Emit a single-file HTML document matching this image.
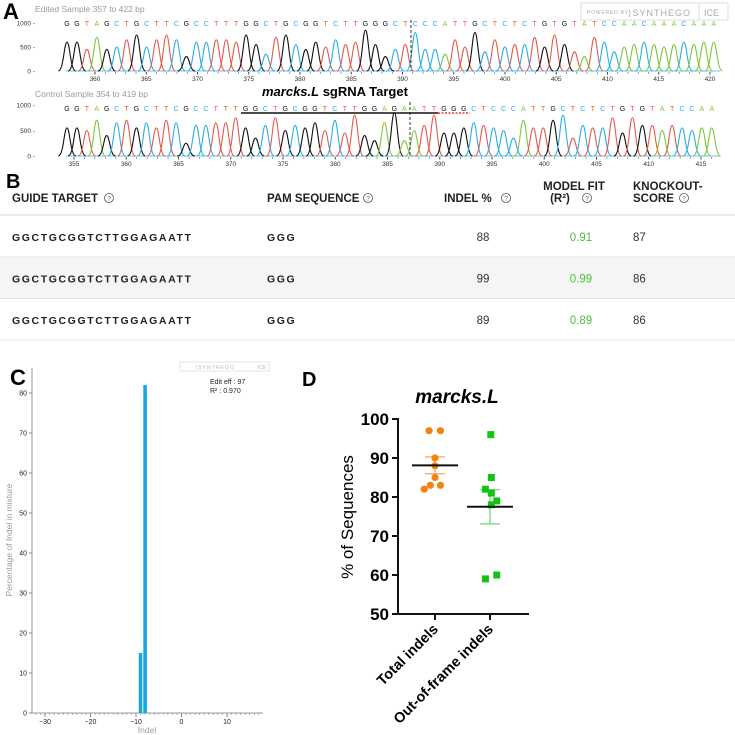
<!DOCTYPE html>
<html><head><meta charset="utf-8">
<style>
html,body{margin:0;padding:0;background:#fff;width:735px;height:735px;overflow:hidden;font-family:"Liberation Sans",sans-serif}
svg text{font-family:"Liberation Sans",sans-serif}
</style></head>
<body>
<svg id="fig" width="735" height="735" viewBox="0 0 735 735" xmlns="http://www.w3.org/2000/svg">
<rect width="735" height="735" fill="#fff"/>
<text x="3" y="19" font-size="22" font-weight="bold">A</text>
<text x="35" y="12" font-size="8.5" fill="#999">Edited Sample 357 to 422 bp</text>
<g>
<rect x="581" y="3" width="147" height="17" fill="#fff" stroke="#ddd"/>
<text x="587" y="14" font-size="5" fill="#aaa" letter-spacing="0.8">POWERED BY</text>
<text x="628" y="16" font-size="9" fill="#aaa" letter-spacing="1">⟩SYNTHEGO</text>
<line x1="699" y1="3" x2="699" y2="20" stroke="#ddd"/>
<text x="704" y="16" font-size="9" fill="#aaa">ICE</text>
</g>
<text x="35" y="97" font-size="8.5" fill="#999">Control Sample 354 to 419 bp</text>
<text x="262" y="96" font-size="13" font-weight="bold"><tspan font-style="italic">marcks.L</tspan> sgRNA Target</text>
<g id="chromA"></g>
<text x="6" y="188" font-size="20" font-weight="bold">B</text>
<g id="tableB" font-size="10.5" font-weight="bold" fill="#222"></g>
<text x="10" y="385" font-size="22" font-weight="bold">C</text>
<g id="chartC"></g>
<text x="302" y="386" font-size="20" font-weight="bold">D</text>
<g id="chartD"></g>
</svg>
<script>
// ---------- data: chromatograms ----------
const editedSeq = "GGTAGCTGCTTCGCCTTTGGCTGCGGTCTTGGGCTCCCATTGCTCTCTGTGTATCCAACAAACAAA";
const editedHeights = [600,600,450,700,450,500,650,750,500,650,750,650,300,600,600,650,650,600,750,550,350,700,750,550,450,600,500,650,550,600,850,550,300,450,550,800,450,450,350,650,500,800,400,650,500,550,550,700,500,750,550,400,300,700,600,400,500,550,600,550,500,550,600,550,600,600];
const editedTicks = [360,365,370,375,380,385,390,395,400,405,410,415,420];
const controlSeq = "GGTAGCTGCTTCGCCTTTGGCTGCGGTCTTGGAGAATTGGGCTCCCATTGCTCTCTGTGTATCCAA";
const controlHeights = [550,550,500,700,400,650,700,550,650,550,700,650,250,600,600,650,650,750,550,350,600,750,500,600,550,650,500,700,450,800,400,300,650,850,300,500,600,800,450,450,550,650,600,550,500,350,700,550,550,700,800,350,600,550,550,750,450,750,600,600,500,600,550,500,550,550];
const controlTicks = [355,360,365,370,375,380,385,390,395,400,405,410,415];
const chromYTicks = [0,500,1000];

// ---------- data: table ----------
const guideTargets = ["GGCTGCGGTCTTGGAGAATT","GGCTGCGGTCTTGGAGAATT","GGCTGCGGTCTTGGAGAATT"];
const pamSeqs = ["GGG","GGG","GGG"];
const indelPct = [88,99,89];
const modelFit = ["0.91","0.99","0.89"];
const koScore = [87,86,86];

// ---------- data: panel C ----------
const indelSizes = [-9,-8];
const indelPercents = [15,82];
const cYTicks = [0,10,20,30,40,50,60,70,80];
const cXTicks = [-30,-20,-10,0,10];

// ---------- data: panel D ----------
const totalIndels = [97,97,90,88,85,83,83,82];
const totalJitter = [-0.22,0.2,0,0,0,-0.17,0.2,-0.4];
const oofIndels = [96,85,82,81,78,79,59,60];
const oofJitter = [0.03,0.05,-0.17,0.05,0.05,0.25,-0.17,0.25];
const dYTicks = [50,60,70,80,90,100];
const dCategories = ["Total indels","Out-of-frame indels"];

const NS="http://www.w3.org/2000/svg";
function mk(tag, attrs, parent, text){
  const el=document.createElementNS(NS,tag);
  for(const k in attrs) el.setAttribute(k,attrs[k]);
  if(text!==undefined) el.textContent=text;
  parent.appendChild(el); return el;
}
const baseColor={G:"#111",A:"#7cc83c",T:"#e8584c",C:"#2aaee8"};

function chrom(g, seq, heights, ticks, opt){
  const yS=v=>opt.y0-(v/1000)*(opt.y0-opt.y1000);
  const xL=i=>opt.lx0+i*opt.lstep;
  const xT=p=>opt.tx0+(p-opt.tp0)*opt.tstep;
  chromYTicks.forEach(t=>{
    const el=mk("text",{x:opt.ylx,y:yS(t)+2.5,"font-size":6.5,fill:"#333","text-anchor":"end"},g,t+" -");
    
    
  });
  for(let i=0;i<seq.length;i++){
    const c=seq[i];
    const t=mk("text",{x:xL(i),y:opt.ly,"font-size":7,fill:baseColor[c],"text-anchor":"middle"},g,c);
    
    
  }
  mk("line",{x1:opt.x0,x2:opt.x1,y1:opt.y0,y2:opt.y0,stroke:"#9fd8f0","stroke-width":1.6},g);
  for(let i=0;i<seq.length;i++){
    const x=xL(i), tp=yS(heights[i]), b=opt.y0, w=5.5;
    const p=mk("path",{d:`M${x-w*1.6},${b} C${x-w*0.6},${b} ${x-w*0.55},${tp} ${x},${tp} C${x+w*0.55},${tp} ${x+w*0.6},${b} ${x+w*1.6},${b}`,fill:"none",stroke:baseColor[seq[i]],"stroke-width":1.1},g);
    
    
  }
  ticks.forEach(t=>{
    mk("line",{x1:xT(t),x2:xT(t),y1:opt.y0+1,y2:opt.y0+3.5,stroke:"#444"},g);
    for(let k=1;k<5;k++){const xm=xT(t+k); if(xm<opt.x1) mk("line",{x1:xm,x2:xm,y1:opt.y0+1,y2:opt.y0+3,stroke:"#666","stroke-width":0.6},g);}
    const el=mk("text",{x:xT(t),y:opt.y0+10,"font-size":6.5,fill:"#333","text-anchor":"middle"},g,t);
    
    
  });
  mk("line",{x1:opt.cut,x2:opt.cut,y1:opt.y1000-3,y2:opt.y0,stroke:"#333","stroke-dasharray":"3,2","stroke-width":1},g);
}
const gA=document.getElementById("chromA");
const topG=mk("g",{},gA);


chrom(topG,editedSeq,editedHeights,editedTicks,{y0:71,y1000:23,ylx:35,ly:26,lx0:67,lstep:9.95,tx0:95,tp0:360,tstep:10.25,x0:66,x1:720,cut:411});
const botG=mk("g",{},gA);


chrom(botG,controlSeq,controlHeights,controlTicks,{y0:156,y1000:105,ylx:35,ly:111,lx0:67,lstep:9.92,tx0:74,tp0:355,tstep:10.45,x0:66,x1:720,cut:410});
mk("line",{x1:241,x2:438,y1:113,y2:113,stroke:"#111","stroke-width":1.4},botG);
mk("line",{x1:438,x2:470,y1:113,y2:113,stroke:"#e33","stroke-width":1.4,"stroke-dasharray":"2,1.5"},botG);

// ---------- table ----------
const gB=document.getElementById("tableB");
function q(x,y){mk("circle",{cx:x,cy:y-4,r:4.5,fill:"none",stroke:"#555","stroke-width":0.8},gB);mk("text",{x:x,y:y-1.5,"font-size":6.5,"text-anchor":"middle",fill:"#555","font-weight":"normal"},gB,"?");}
[["GUIDE TARGET",12,202,109],["PAM SEQUENCE",267,202,368],["INDEL %",444,202,506]].forEach(h=>{
  const el=mk("text",{x:h[1],y:h[2],"font-size":11.5},gB,h[0]);
  
  
  q(h[3],h[2]);});
let hd=mk("text",{x:574,y:190,"text-anchor":"middle","font-size":11.5},gB,"MODEL FIT");


hd=mk("text",{x:560,y:202,"text-anchor":"middle","font-size":11.5},gB,"(R²)");


q(587,202);
hd=mk("text",{x:633,y:190,"font-size":11.5},gB,"KNOCKOUT-");


hd=mk("text",{x:633,y:202,"font-size":11.5},gB,"SCORE");


q(684,202);
mk("line",{x1:0,x2:735,y1:215,y2:215,stroke:"#e4e4e4","stroke-width":1.5},gB);
guideTargets.forEach((gt,i)=>{
  const y0=216+i*41.5;
  const row=mk("g",{},gB);
  
  
  if(i===1) mk("rect",{x:0,y:y0,width:735,height:41,fill:"#f5f5f5"},row);
  mk("line",{x1:0,x2:735,y1:y0+41,y2:y0+41,stroke:"#e4e4e4"},row);
  const ty=y0+25;
  mk("text",{x:12,y:ty,"letter-spacing":"1.6"},row,gt);
  mk("text",{x:267,y:ty,"letter-spacing":"1.6"},row,pamSeqs[i]);
  mk("text",{x:483,y:ty,"text-anchor":"middle","font-weight":"normal","font-size":11.5,fill:"#333"},row,indelPct[i]);
  mk("text",{x:581,y:ty,"text-anchor":"middle","font-weight":"normal","font-size":11.5,fill:"#4cbf3c"},row,modelFit[i]);
  mk("text",{x:633,y:ty,"font-weight":"normal","font-size":11.5,fill:"#333"},row,koScore[i]);
});

// ---------- panel C ----------
const gC=document.getElementById("chartC");
const cx=v=>181.5+v*4.55, cy=v=>713-v*4.0;
mk("line",{x1:32,x2:32,y1:368,y2:713,stroke:"#999"},gC);
mk("line",{x1:32,x2:263,y1:713,y2:713,stroke:"#999"},gC);
for(let v=-32;v<=17;v++) mk("line",{x1:cx(v),x2:cx(v),y1:713,y2:715,stroke:"#888","stroke-width":0.6},gC);
cYTicks.forEach(t=>{mk("line",{x1:29,x2:32,y1:cy(t),y2:cy(t),stroke:"#888"},gC);
  const el=mk("text",{x:27,y:cy(t)+2.5,"font-size":7,"text-anchor":"end",fill:"#222"},gC,t);
  
  });
cXTicks.forEach(t=>{mk("line",{x1:cx(t),x2:cx(t),y1:713,y2:717,stroke:"#888"},gC);
  const el=mk("text",{x:cx(t),y:724,"font-size":7,"text-anchor":"middle",fill:"#222"},gC,t<0?"−"+(-t):t);
  
  });
indelSizes.forEach((s,i)=>{const b=mk("rect",{x:cx(s)-1.8,y:cy(indelPercents[i]),width:3.6,height:713-cy(indelPercents[i]),fill:"#1aa6e8"},gC);
  
  });
let tc=mk("text",{x:147,y:733,"font-size":8.5,fill:"#999","text-anchor":"middle"},gC,"Indel");


tc=mk("text",{x:0,y:0,"font-size":8.5,fill:"#999","text-anchor":"middle",transform:"translate(12,540) rotate(-90)"},gC,"Percentage of Indel in mixture");


tc=mk("text",{x:210,y:384,"font-size":7,fill:"#222"},gC,"Edit eff : 97");


tc=mk("text",{x:210,y:393,"font-size":7,fill:"#222"},gC,"R² : 0.970");


mk("rect",{x:180,y:362,width:89,height:9,fill:"#fff",stroke:"#e6e6e6"},gC);
mk("text",{x:215,y:369,"font-size":5.5,fill:"#bbb","text-anchor":"middle","letter-spacing":"0.8"},gC,"⟩SYNTHEGO");
mk("text",{x:262,y:369,"font-size":5.5,fill:"#bbb","text-anchor":"middle"},gC,"ICE");

// ---------- panel D ----------
const gD=document.getElementById("chartD");
const dy=v=>614-(v-50)*3.9;
const catX=[435,490];
const dx=(c,j)=>catX[c]+j*27;
let td=mk("text",{x:457,y:403,"font-size":19,"font-weight":"bold","font-style":"italic","text-anchor":"middle"},gD,"marcks.L");


mk("line",{x1:398,x2:398,y1:418,y2:615,stroke:"#111","stroke-width":2},gD);
mk("line",{x1:397,x2:529,y1:614,y2:614,stroke:"#111","stroke-width":2},gD);
dYTicks.forEach(t=>{mk("line",{x1:392,x2:398,y1:dy(t),y2:dy(t),stroke:"#111","stroke-width":2},gD);
  const el=mk("text",{x:389,y:dy(t)+6,"font-size":17,"font-weight":"bold","text-anchor":"end"},gD,t);
  
  });
catX.forEach((x,i)=>{mk("line",{x1:x,x2:x,y1:614,y2:620,stroke:"#111","stroke-width":2},gD);
  const el=mk("text",{x:0,y:0,"font-size":14.5,"font-weight":"bold","text-anchor":"end",transform:`translate(${x+4},${630}) rotate(-45)`},gD,dCategories[i]);
  
  });
td=mk("text",{x:0,y:0,"font-size":17,"text-anchor":"middle",transform:"translate(353,517) rotate(-90)"},gD,"% of Sequences");


function stats(a){const m=a.reduce((s,v)=>s+v,0)/a.length;const sd=Math.sqrt(a.reduce((s,v)=>s+(v-m)*(v-m),0)/(a.length-1));return [m,sd/Math.sqrt(a.length)];}
function errbars(a,c,col){const [m,se]=stats(a);const x=catX[c];
  mk("line",{x1:x,x2:x,y1:dy(m+se),y2:dy(m-se),stroke:col,"stroke-width":1.5},gD);
  mk("line",{x1:x-10,x2:x+10,y1:dy(m+se),y2:dy(m+se),stroke:col,"stroke-width":1.5},gD);
  mk("line",{x1:x-10,x2:x+10,y1:dy(m-se),y2:dy(m-se),stroke:col,"stroke-width":1.5},gD);}
errbars(totalIndels,0,"#f9b27a"); errbars(oofIndels,1,"#86dc86");
totalIndels.forEach((v,i)=>{const p=mk("circle",{cx:dx(0,totalJitter[i]),cy:dy(v),r:3.6,fill:"#f5820f"},gD);
  
  });
oofIndels.forEach((v,i)=>{const p=mk("rect",{x:dx(1,oofJitter[i])-3.5,y:dy(v)-3.5,width:7,height:7,fill:"#14c214"},gD);
  
  });
[totalIndels,oofIndels].forEach((a,c)=>{const [m]=stats(a);const l=mk("line",{x1:catX[c]-23,x2:catX[c]+23,y1:dy(m),y2:dy(m),stroke:"#111","stroke-width":2},gD);
  
  });
</script>
</body></html>
